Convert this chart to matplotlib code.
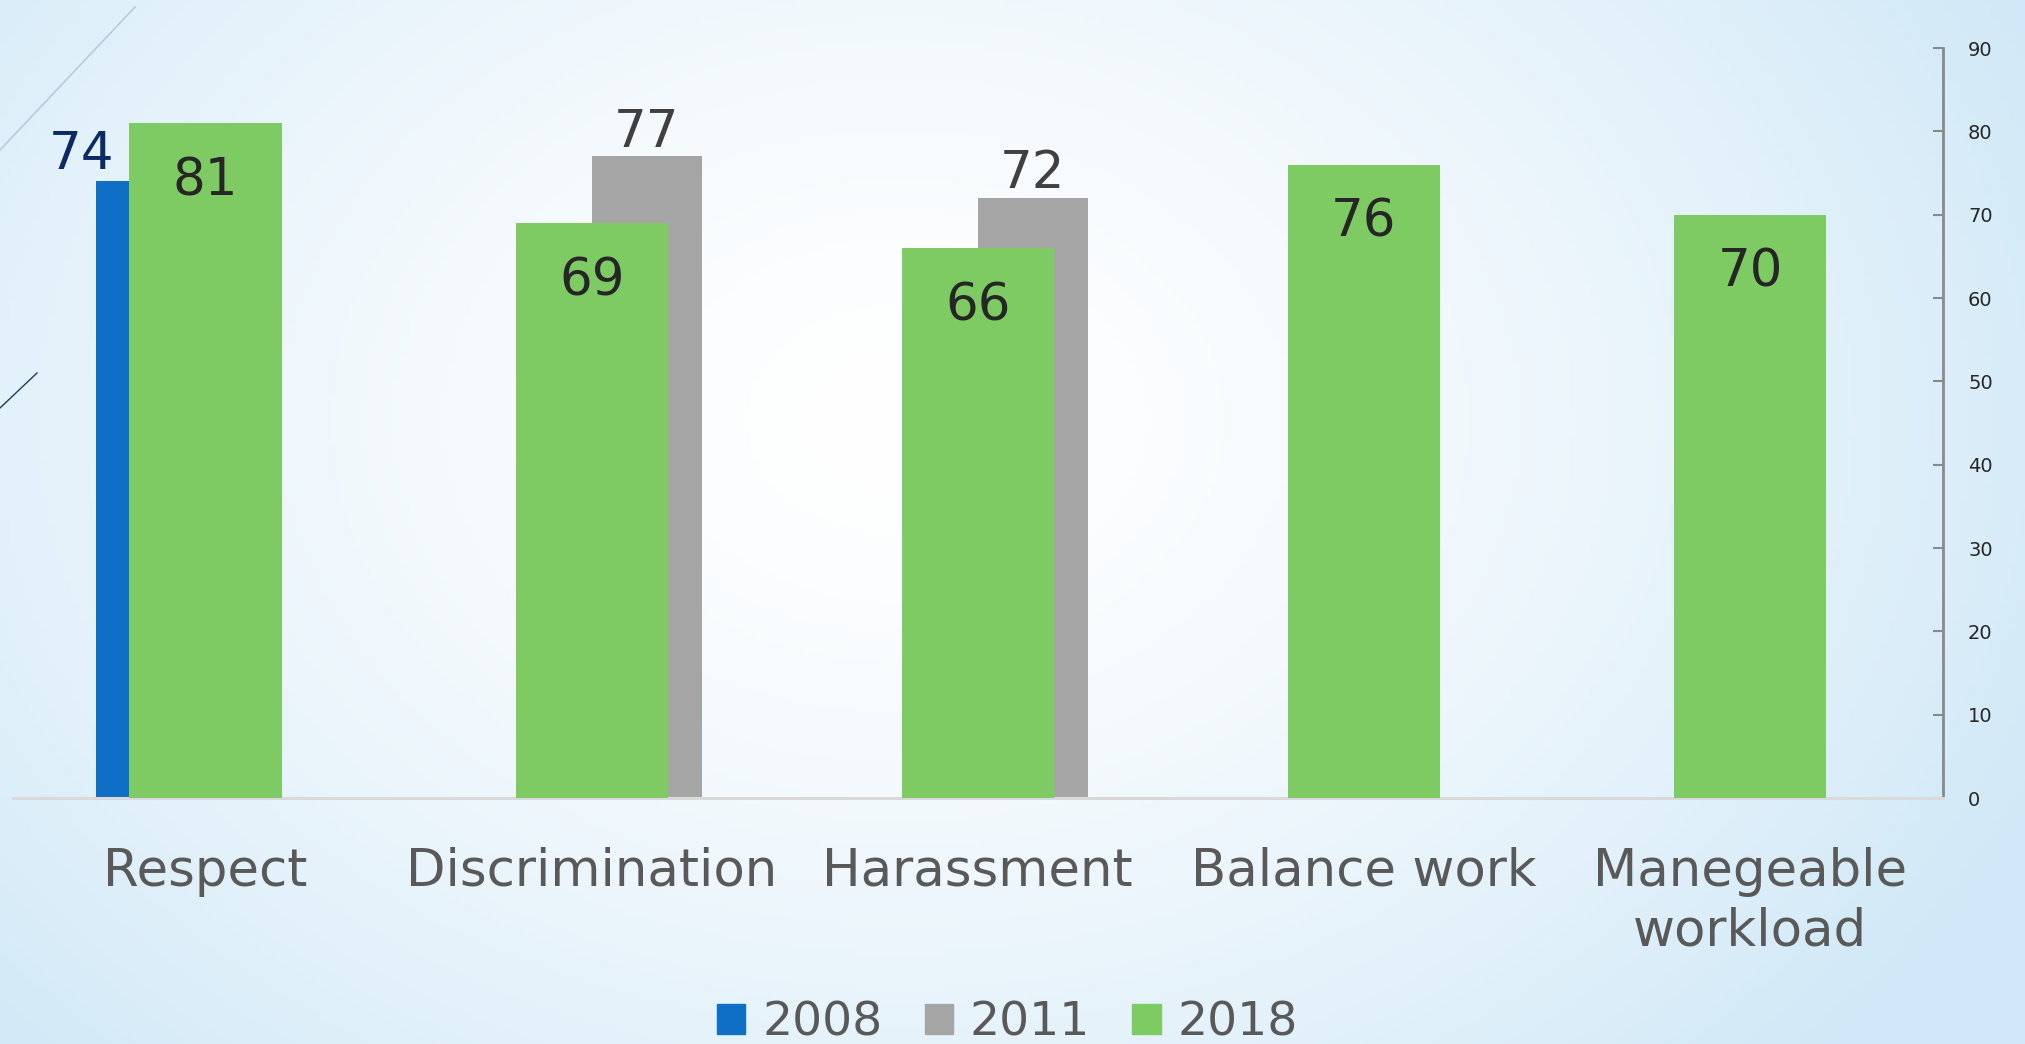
import matplotlib.pyplot as plt
import numpy as np
from matplotlib.patches import Patch
from matplotlib.lines import Line2D

categories = ['Respect', 'Discrimination', 'Harassment', 'Balance work', 'Manegeable\nworkload']
years = ['2008', '2011', '2018']
vals_2008 = [74, np.nan, np.nan, np.nan, np.nan]
vals_2011 = [np.nan, 77, 72, np.nan, np.nan]
vals_2018 = [81, 69, 66, 76, 70]

c_2008 = '#0F6FC6'
c_2011 = '#A5A5A5'
c_2018 = '#7DCB62'
font = 'DejaVu Sans'

plt.rcParams['font.family'] = font

fig = plt.figure(figsize=(20.25, 10.44), dpi=100)

# slide background: soft radial gradient, white in the middle
bg = fig.add_axes([0, 0, 1, 1], zorder=-10)
gx, gy = np.meshgrid(np.linspace(0, 2025, 405), np.linspace(0, 1044, 209))
r = np.sqrt(((gx - 900) / 1200) ** 2 + ((gy - 420) / 900) ** 2)
t = np.clip(r / 1.05, 0, 1) ** 1.5
edge = np.array([0xD0, 0xE8, 0xF7]) / 255
img = (1 - t[..., None]) * np.array([1.0, 1.0, 1.0]) + t[..., None] * edge
bg.imshow(img, aspect='auto', extent=[0, 1, 0, 1], origin='upper')
bg.axis('off')

# template decoration lines
fig.add_artist(Line2D([0, 135 / 2025], [1 - 150 / 1044, 1 - 7 / 1044],
                      transform=fig.transFigure, color='#b9cadc', lw=1.2))
fig.add_artist(Line2D([0, 37 / 2025], [1 - 408 / 1044, 1 - 373 / 1044],
                      transform=fig.transFigure, color='#1f3a63', lw=1.0))

ax = fig.add_axes([12.5 / 2025, 246 / 1044, (1943 - 12.5) / 2025, 750 / 1044])
ax.set_facecolor('none')

x = np.arange(len(categories))
a08 = np.array(vals_2008, dtype=float)
a11 = np.array(vals_2011, dtype=float)
a18 = np.array(vals_2018, dtype=float)
m08 = ~np.isnan(a08)
m11 = ~np.isnan(a11)

w_small = 0.285
w_big = 0.394

ax.bar(x[m08] - w_small, a08[m08], width=w_small, align='edge', color=c_2008, zorder=2)
ax.bar(x[m11], a11[m11], width=w_small, align='edge', color=c_2011, zorder=2)
ax.bar(x, a18, width=w_big, color=c_2018, zorder=3)

# data labels
for xi, v in zip(x[m08], a08[m08]):
    ax.annotate(f'{v:.0f}', xy=(xi - w_small - 0.035, v), xytext=(0, 9),
                textcoords='offset points', ha='center', va='baseline',
                fontsize=37, color='#0B2A66', zorder=5)
for xi, v in zip(x[m11], a11[m11]):
    ax.annotate(f'{v:.0f}', xy=(xi + w_small / 2, v), xytext=(0, 7),
                textcoords='offset points', ha='center', va='baseline',
                fontsize=37, color='#404040', zorder=5)
for xi, v in zip(x, a18):
    ax.annotate(f'{v:.0f}', xy=(xi, v), xytext=(0, -52),
                textcoords='offset points', ha='center', va='baseline',
                fontsize=37, color='#262626', zorder=5)

ax.set_xlim(-0.5, len(categories) - 0.5)
ax.set_ylim(0, 90)
ax.set_yticks(np.arange(0, 91, 10))
ax.yaxis.tick_right()
ax.tick_params(axis='y', direction='in', length=7, width=1.5, color='#898989',
               labelsize=14, labelcolor='#262626', pad=18)
ax.set_xticks(x)
ax.set_xticklabels(categories, fontsize=37, color='#595959', linespacing=1.25)
ax.tick_params(axis='x', length=0, pad=35)

for s in ['top', 'left']:
    ax.spines[s].set_visible(False)
ax.spines['right'].set_color('#898989')
ax.spines['right'].set_linewidth(2)
ax.spines['bottom'].set_color('#D9D9D9')
ax.spines['bottom'].set_linewidth(2.2)

handles = [Patch(color=c) for c in (c_2008, c_2011, c_2018)]
fig.legend(handles, years, loc='center', bbox_to_anchor=(0.4975, 0.02), ncol=3,
           frameon=False, fontsize=34, labelcolor='#595959',
           handlelength=0.6, handleheight=0.6, handletextpad=0.35,
           columnspacing=0.9)

fig.savefig('out.png', dpi=100)
